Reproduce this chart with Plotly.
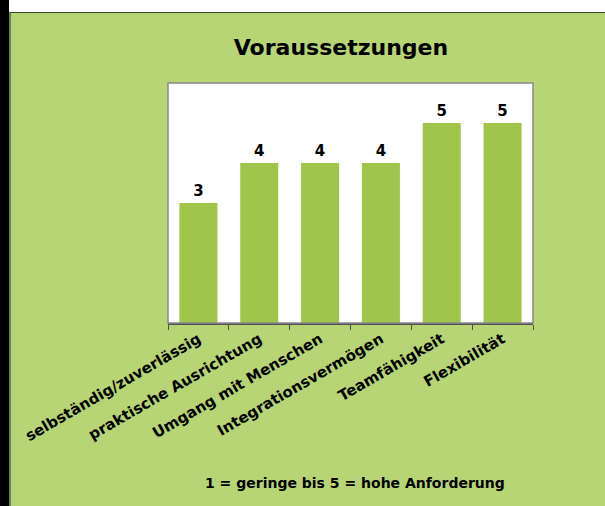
import plotly.graph_objects as go

categories = ["selbständig/zuverlässig", "praktische Ausrichtung", "Umgang mit Menschen",
              "Integrationsvermögen", "Teamfähigkeit", "Flexibilität"]
values = [3, 4, 4, 4, 5, 5]
title_text = "Voraussetzungen"
note_text = "1 = geringe bis 5 = hohe Anforderung"

W, H = 605, 506
L, R, T, B = 168, 533, 83, 323  # plot area in pixels
pw, ph = R - L, B - T

def px(x):
    return (x - L) / pw

def py(y):
    return (B - y) / ph

FONT = "DejaVu Sans"
GREEN_BG = "#b7d574"
BAR = "#a1c54a"

fig = go.Figure()
fig.add_trace(go.Bar(
    x=categories, y=values,
    marker=dict(color=BAR, line=dict(width=0)),
    text=[str(v) for v in values], textposition="outside",
    textfont=dict(family=FONT, size=15, color="black", weight="bold"),
    cliponaxis=False, showlegend=False, hoverinfo="skip",
))

shapes = [
    # white strip at top
    dict(type="rect", xref="paper", yref="paper", x0=px(-2), x1=px(W + 2), y0=py(12), y1=py(-2),
         fillcolor="white", line=dict(width=0), layer="below"),
    # black strip at left
    dict(type="rect", xref="paper", yref="paper", x0=px(-2), x1=px(9), y0=py(H + 2), y1=py(-2),
         fillcolor="black", line=dict(width=0), layer="below"),
    # dark border around green area
    dict(type="rect", xref="paper", yref="paper", x0=px(10), x1=px(W + 5), y0=py(H + 5), y1=py(12.5),
         fillcolor="rgba(0,0,0,0)", line=dict(color="#3d4a30", width=1.2), layer="below"),
    # plot area border
    dict(type="rect", xref="paper", yref="paper", x0=0, x1=1, y0=0, y1=1,
         fillcolor="rgba(0,0,0,0)", line=dict(color="#8a8a8a", width=1.5), layer="above"),
]

fig.update_layout(
    width=W, height=H,
    margin=dict(l=L, r=W - R, t=T, b=H - B, pad=0),
    paper_bgcolor=GREEN_BG, plot_bgcolor="white",
    bargap=0.375,
    shapes=shapes,
    title=dict(text=title_text, x=341 / W, xanchor="center", xref="container",
               y=1 - 47 / H, yanchor="middle", yref="container",
               font=dict(family=FONT, size=22, color="black", weight="bold")),
    xaxis=dict(type="category", showline=True, linecolor="#505050", linewidth=1.5,
               ticks="outside", tickson="boundaries", ticklen=5, tickcolor="#505050", tickwidth=1,
               tickangle=-30, tickfont=dict(family=FONT, size=15, color="black", weight="bold"),
               showgrid=False, zeroline=False),
    yaxis=dict(range=[0, 6], visible=False, showgrid=False, zeroline=False),
    annotations=[dict(text=note_text, xref="paper", yref="paper", x=px(355), y=py(483),
                      xanchor="center", yanchor="middle", showarrow=False,
                      font=dict(family=FONT, size=14, color="black", weight="bold"))],
)

fig.write_html("out.html", config={"displayModeBar": False},
               post_script="document.body.style.margin='0';document.body.style.overflow='hidden';")
